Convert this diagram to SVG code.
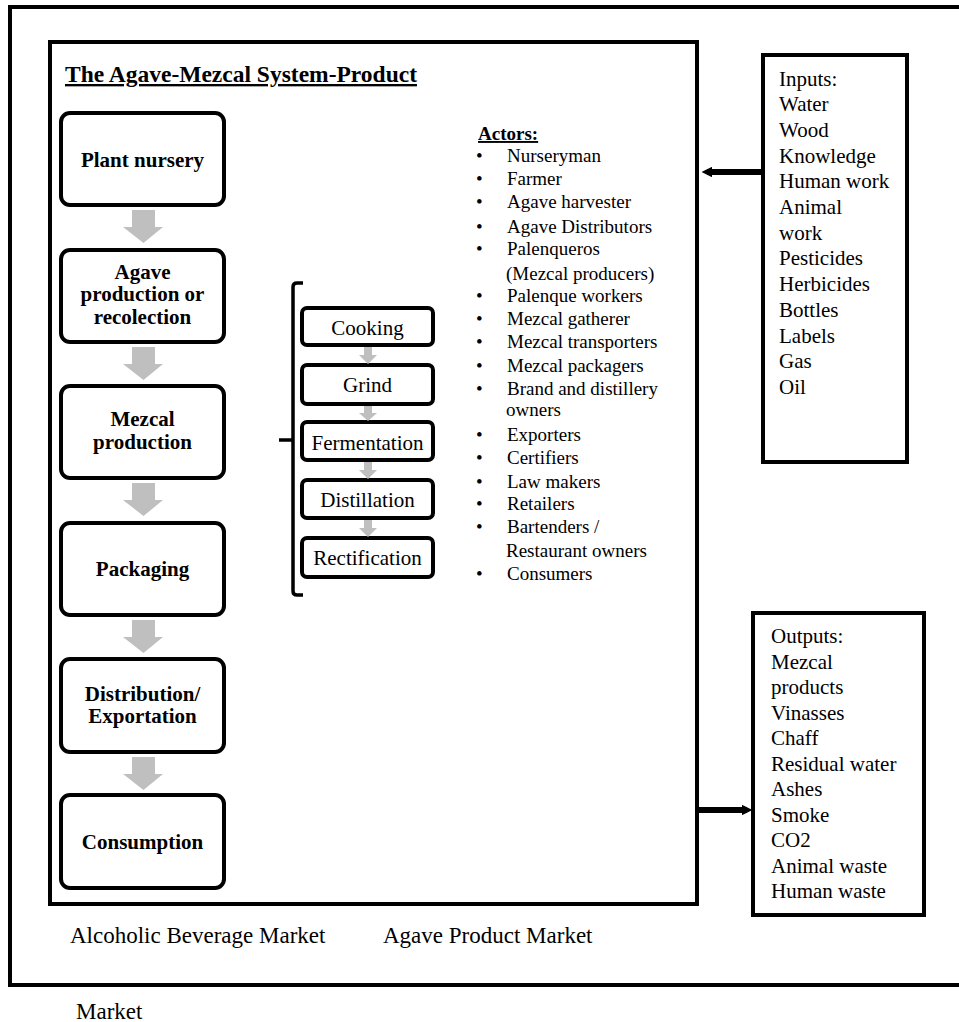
<svg xmlns="http://www.w3.org/2000/svg" width="959" height="1022" viewBox="0 0 959 1022">
<defs>
<style>
.frame{fill:none;stroke:#000;stroke-width:4}
.box{fill:#fff;stroke:#000;stroke-width:4}
.bt{font-family:"Liberation Serif","Times New Roman",serif;font-weight:bold;font-size:21px;text-anchor:middle;fill:#000}
.pt{font-family:"Liberation Serif","Times New Roman",serif;font-size:21px;text-anchor:middle;fill:#000}
.t{font-family:"Liberation Serif","Times New Roman",serif;fill:#000}
.a19{font-size:19px}
.a21{font-size:21px}
.m23{font-size:23px}
.garrow{fill:#bfbfbf}
.conn{stroke:#000;stroke-width:6;fill:none;marker-end:url(#ah)}
</style>
<marker id="ah" viewBox="0 0 10 10" refX="5" refY="5" markerWidth="1.8" markerHeight="1.8" orient="auto">
<path d="M0,0 L10,5 L0,10 z" fill="#000"/>
</marker>
</defs>
<rect width="959" height="1022" fill="#fff"/>

<g id="outer-frame">
<rect class="frame" x="10" y="7" width="1000" height="978"/>
</g>
<g id="system-box">
<rect class="frame" x="50" y="42" width="647" height="862"/>
<text class="t" x="65" y="82" font-size="23.5" font-weight="bold" text-decoration="underline">The Agave-Mezcal System-Product</text>
</g>

<g id="plant-nursery">
<rect class="box" x="61" y="113" width="163" height="92" rx="9"/>
<text class="bt" x="142.5" y="167">Plant nursery</text>
</g>
<g id="agave-production">
<rect class="box" x="61" y="250" width="163" height="92" rx="9"/>
<text class="bt" x="142.5" y="278.5">Agave</text>
<text class="bt" x="142.5" y="301">production or</text>
<text class="bt" x="142.5" y="323.5">recolection</text>
</g>
<g id="mezcal-production">
<rect class="box" x="61" y="386" width="163" height="92" rx="9"/>
<text class="bt" x="142.5" y="426">Mezcal</text>
<text class="bt" x="142.5" y="449">production</text>
</g>
<g id="packaging">
<rect class="box" x="61" y="523" width="163" height="92" rx="9"/>
<text class="bt" x="142.5" y="576">Packaging</text>
</g>
<g id="distribution">
<rect class="box" x="61" y="659" width="163" height="93" rx="9"/>
<text class="bt" x="142.5" y="700.5">Distribution/</text>
<text class="bt" x="142.5" y="723">Exportation</text>
</g>
<g id="consumption">
<rect class="box" x="61" y="795" width="163" height="93" rx="9"/>
<text class="bt" x="142.5" y="849">Consumption</text>
</g>

<g id="bracket">
<path d="M303,283 L297,283 Q293,283 293,287 L293,591 Q293,595 297,595 L303,595 M293,440 L279,440" fill="none" stroke="#000" stroke-width="3.5"/>
</g>
<g id="cooking">
<rect class="box" x="302" y="308" width="131" height="37" rx="5"/>
<text class="pt" x="367.5" y="335">Cooking</text>
</g>
<g id="grind">
<rect class="box" x="302" y="365" width="131" height="39" rx="5"/>
<text class="pt" x="367.5" y="392">Grind</text>
</g>
<g id="fermentation">
<rect class="box" x="302" y="422" width="131" height="38" rx="5"/>
<text class="pt" x="367.5" y="450">Fermentation</text>
</g>
<g id="distillation">
<rect class="box" x="302" y="480" width="131" height="38" rx="5"/>
<text class="pt" x="367.5" y="507">Distillation</text>
</g>
<g id="rectification">
<rect class="box" x="302" y="538" width="131" height="39" rx="5"/>
<text class="pt" x="367.5" y="565">Rectification</text>
</g>

<g id="actors">
<text class="t a19" x="478" y="140" font-weight="bold" text-decoration="underline">Actors:</text>
<g class="t a19">
<text x="476" y="162">•</text><text x="507" y="162">Nurseryman</text>
<text x="476" y="185">•</text><text x="507" y="185">Farmer</text>
<text x="476" y="208">•</text><text x="507" y="208">Agave harvester</text>
<text x="476" y="233">•</text><text x="507" y="233">Agave Distributors</text>
<text x="476" y="255">•</text><text x="507" y="255">Palenqueros</text>
<text x="506" y="280">(Mezcal producers)</text>
<text x="476" y="302">•</text><text x="507" y="302">Palenque workers</text>
<text x="476" y="325">•</text><text x="507" y="325">Mezcal gatherer</text>
<text x="476" y="348">•</text><text x="507" y="348">Mezcal transporters</text>
<text x="476" y="372">•</text><text x="507" y="372">Mezcal packagers</text>
<text x="476" y="395">•</text><text x="507" y="395">Brand and distillery</text>
<text x="506" y="416">owners</text>
<text x="476" y="441">•</text><text x="507" y="441">Exporters</text>
<text x="476" y="464">•</text><text x="507" y="464">Certifiers</text>
<text x="476" y="488">•</text><text x="507" y="488">Law makers</text>
<text x="476" y="510">•</text><text x="507" y="510">Retailers</text>
<text x="476" y="533">•</text><text x="507" y="533">Bartenders /</text>
<text x="506" y="557">Restaurant owners</text>
<text x="476" y="580">•</text><text x="507" y="580">Consumers</text>
</g>
</g>

<g id="inputs">
<rect class="box" x="763" y="55" width="144" height="407"/>
<g class="t a21">
<text x="779" y="85.5">Inputs:</text>
<text x="779" y="111.2">Water</text>
<text x="779" y="136.9">Wood</text>
<text x="779" y="162.6">Knowledge</text>
<text x="779" y="188.3">Human work</text>
<text x="779" y="214">Animal</text>
<text x="779" y="239.7">work</text>
<text x="779" y="265.4">Pesticides</text>
<text x="779" y="291.1">Herbicides</text>
<text x="779" y="316.8">Bottles</text>
<text x="779" y="342.5">Labels</text>
<text x="779" y="368.2">Gas</text>
<text x="779" y="393.9">Oil</text>
</g>
</g>

<g id="outputs">
<rect class="box" x="753" y="613" width="171" height="302"/>
<g class="t a21">
<text x="771" y="643">Outputs:</text>
<text x="771" y="668.5">Mezcal</text>
<text x="771" y="694">products</text>
<text x="771" y="719.5">Vinasses</text>
<text x="771" y="745">Chaff</text>
<text x="771" y="770.5">Residual water</text>
<text x="771" y="796">Ashes</text>
<text x="771" y="821.5">Smoke</text>
<text x="771" y="847">CO2</text>
<text x="771" y="872.5">Animal waste</text>
<text x="771" y="898">Human waste</text>
</g>
</g>

<g id="markets">
<text class="t m23" x="70" y="943">Alcoholic Beverage Market</text>
<text class="t m23" x="383" y="943">Agave Product Market</text>
<text class="t m23" x="76" y="1019">Market</text>
</g>

<g id="connectors">
<path class="garrow" d="M132,210 H155 V227 H163 L143.5,243 L123,227 H132 Z"/>
<path class="garrow" d="M132,347 H155 V364 H163 L143.5,380 L123,364 H132 Z"/>
<path class="garrow" d="M132,483 H155 V500 H163 L143.5,516 L123,500 H132 Z"/>
<path class="garrow" d="M132,620 H155 V637 H163 L143.5,653 L123,637 H132 Z"/>
<path class="garrow" d="M132,757 H155 V774 H163 L143.5,790 L123,774 H132 Z"/>
<path class="garrow" d="M364,347 H372 V355 H377 L368,364 L359,355 H364 Z"/>
<path class="garrow" d="M364,406 H372 V413 H377 L368,421 L359,413 H364 Z"/>
<path class="garrow" d="M364,462 H372 V470 H377 L368,479 L359,470 H364 Z"/>
<path class="garrow" d="M364,520 H372 V528 H377 L368,537 L359,528 H364 Z"/>
<path class="conn" d="M762,172 H707"/>
<path class="conn" d="M698,810 H747"/>
</g>
</svg>
